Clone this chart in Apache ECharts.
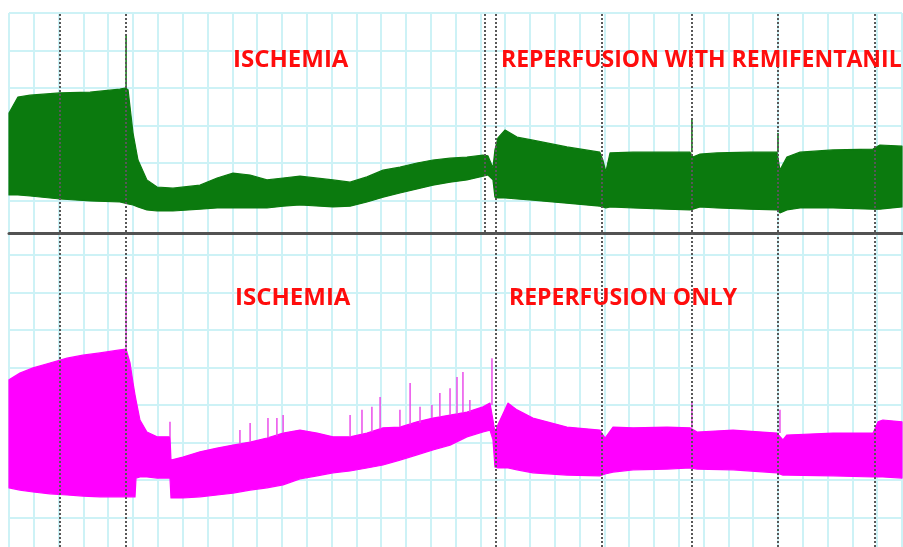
<!DOCTYPE html>
<html><head><meta charset="utf-8">
<script src="https://cdn.jsdelivr.net/npm/echarts@6/dist/echarts.min.js"></script>
<style>html,body{margin:0;padding:0;background:#fff}#c{width:903px;height:547px}</style>
</head><body><div id="c"></div><script>
// ---- time axis (grid divisions) ----
var xTicks = { min: 0, max: 36, step: 1 };

// ---- top panel: reperfusion with remifentanil (green) ----
var topT  = [0, 0.36, 0.85, 2.06, 3.27, 4.47, 4.68, 4.80, 5.00, 5.20, 5.56, 5.97, 6.61, 7.70, 8.39, 9.03, 9.72, 10.40, 11.05, 11.73, 13.06, 13.75, 14.43, 15.08, 15.76, 16.45, 17.09, 17.78, 18.46, 19.11, 19.31, 19.51, 19.59, 19.71, 20.00, 20.48, 21.12, 22.49, 23.82, 23.94, 24.06, 24.23, 25.16, 26.53, 27.45, 27.57, 27.86, 28.54, 29.87, 30.96, 31.08, 31.36, 31.89, 33.22, 34.83, 35.11, 36];
var topHi = [23.3, 27.6, 28.1, 28.7, 28.9, 29.7, 30.0, 29.5, 18.0, 10.8, 5.5, 3.6, 3.3, 4.1, 6.0, 7.3, 6.8, 5.5, 6.0, 6.5, 5.5, 4.9, 6.3, 8.1, 8.9, 10.0, 10.8, 11.3, 11.6, 12.1, 11.9, 8.7, 13.5, 16.7, 18.8, 16.9, 16.1, 14.3, 12.9, 10.8, 7.6, 12.7, 12.9, 12.9, 12.9, 11.6, 12.4, 12.7, 12.9, 12.9, 8.1, 11.6, 12.9, 13.5, 13.7, 14.8, 14.5];
var topLo = [1.5, 1.5, 1.2, 0.4, -0.1, -0.4, -0.7, -0.9, -1.2, -1.7, -2.5, -2.8, -2.8, -2.3, -2.0, -2.0, -2.0, -2.0, -1.5, -1.2, -1.7, -1.5, -0.4, 0.9, 2.0, 3.1, 4.1, 4.9, 5.5, 6.5, 6.8, 5.5, 0.9, 0.7, 0.7, 0.4, 0.1, -0.7, -1.5, -1.7, -2.0, -1.7, -2.0, -2.3, -2.5, -2.3, -1.7, -2.0, -2.3, -2.5, -3.3, -2.5, -2.0, -2.0, -2.3, -2.3, -1.7];
var topSpikeT    = [4.72, 27.53, 31.00];
var topSpikeBase = [29.8, 12.9, 12.9];
var topSpikePeak = [44.1, 22.0, 18.0];
var topEvents = [2.06, 4.72, 19.19, 19.63, 23.91, 27.54, 31.0, 34.91];
var topGridVals = [0, 10, 20, 30, 40, 50];
var topRange = [-8.4, 50];

// ---- bottom panel: reperfusion only (magenta) ----
var botT  = [0, 0.44, 0.97, 1.65, 2.34, 2.98, 3.67, 4.47, 4.72, 4.88, 5.00, 5.08, 5.12, 5.28, 5.56, 5.97, 6.41, 6.49, 6.53, 7.01, 7.70, 8.39, 9.03, 9.72, 10.40, 11.05, 11.73, 12.42, 13.06, 13.75, 14.43, 15.08, 15.76, 16.45, 17.09, 17.78, 18.46, 19.11, 19.39, 19.51, 19.59, 19.71, 20.12, 20.48, 21.12, 22.49, 23.82, 24.03, 24.35, 25.16, 26.53, 27.45, 27.74, 29.19, 30.96, 31.20, 31.36, 33.22, 34.83, 35.03, 35.23, 36];
var botHi = [36.7, 38.5, 39.9, 41.2, 42.5, 43.3, 43.9, 44.7, 44.9, 41.2, 35.9, 32.7, 31.3, 26.0, 22.8, 21.5, 21.5, 21.5, 15.3, 16.1, 17.5, 18.5, 19.3, 20.1, 21.2, 22.5, 23.3, 22.5, 21.5, 21.5, 22.5, 23.9, 24.1, 25.5, 26.5, 27.3, 28.1, 29.5, 30.5, 26.0, 22.8, 24.7, 30.5, 28.7, 26.5, 24.1, 23.3, 21.2, 24.1, 23.9, 24.1, 23.9, 22.8, 23.3, 22.5, 20.7, 22.0, 22.5, 22.5, 25.5, 26.0, 25.5];
var botLo = [7.9, 7.3, 6.8, 6.3, 6.0, 5.7, 5.5, 5.5, 5.5, 5.5, 5.5, 5.5, 10.5, 10.8, 10.8, 10.5, 10.5, 10.5, 5.2, 5.2, 5.5, 6.0, 6.5, 7.3, 7.9, 8.7, 10.3, 11.1, 11.9, 12.4, 13.2, 14.0, 15.3, 16.7, 18.0, 19.3, 21.5, 22.8, 23.3, 20.7, 13.5, 13.2, 13.2, 12.7, 11.9, 11.3, 11.1, 11.6, 12.1, 12.7, 12.9, 13.2, 12.9, 12.7, 11.9, 11.3, 11.3, 11.1, 10.8, 10.8, 10.8, 10.5];
var botSpikeT    = [4.72, 6.49, 9.31, 9.72, 10.44, 10.80, 11.05, 13.75, 14.23, 14.63, 14.96, 15.76, 16.17, 16.57, 17.05, 17.37, 17.78, 18.06, 18.30, 18.58, 19.47, 27.53, 31.08];
var botSpikeBase = [44.9, 21.5, 19.5, 20.1, 21.2, 21.8, 22.5, 21.5, 22.2, 22.8, 23.5, 24.1, 24.8, 25.2, 26.5, 26.9, 27.3, 27.5, 27.9, 28.1, 30.0, 23.9, 22.5];
var botSpikePeak = [64.1, 25.5, 23.3, 25.2, 26.5, 26.5, 27.3, 27.3, 28.7, 29.5, 32.1, 28.7, 35.9, 29.5, 30.0, 33.2, 34.5, 37.5, 38.8, 31.3, 42.5, 30.5, 28.7];
var botEvents = [2.06, 4.72, 19.63, 23.91, 27.54, 31.0, 34.91];
var botGridVals = [0, 10, 20, 30, 40, 50, 60, 70];
var botRange = [-7.87, 75.87];

// ---- annotations ----
var topLabels = ['ISCHEMIA', 'REPERFUSION WITH REMIFENTANIL'];
var botLabels = ['ISCHEMIA', 'REPERFUSION ONLY'];

var GRID_CYAN = '#cdf2f6';
var GREEN = '#0b7a0e';
var MAGENTA = '#ff00ff';

function bandSeries(ix, T, LO, HI, color, gridVals) {
  var rows = T.map(function (t, i) { return [t, LO[i], HI[i]]; });
  return {
    type: 'custom', xAxisIndex: ix, yAxisIndex: ix, z: 3, silent: true,
    data: rows, encode: { x: 0, y: [1, 2] },
    renderItem: function (params, api) {
      if (params.dataIndex !== 0) return null;
      var up = rows.map(function (r) { return api.coord([r[0], r[2]]); });
      var dn = rows.map(function (r) { return api.coord([r[0], r[1]]); }).reverse();
      return { type: 'polygon', shape: { points: up.concat(dn) },
        style: { fill: color, stroke: color, lineWidth: 1.2, lineJoin: 'round' } };
    },
    markLine: {
      silent: true, z: 1, symbol: ['none', 'none'], label: { show: false },
      lineStyle: { color: GRID_CYAN, width: 2, type: 'solid' },
      emphasis: { disabled: true },
      data: gridVals.map(function (v) { return { yAxis: v }; })
    }
  };
}

function spikeSeries(ix, T, B, P, color, events) {
  return {
    type: 'custom', xAxisIndex: ix, yAxisIndex: ix, z: 4, silent: true,
    data: T.map(function (t, i) { return [t, B[i], P[i]]; }), encode: { x: 0, y: [1, 2] },
    renderItem: function (params, api) {
      var a = api.coord([api.value(0), api.value(1)]);
      var b = api.coord([api.value(0), api.value(2)]);
      return { type: 'line', shape: { x1: a[0], y1: a[1], x2: b[0], y2: b[1] },
        style: { stroke: color, lineWidth: 1.5 } };
    },
    markLine: {
      silent: true, z: 6, symbol: ['none', 'none'], label: { show: false },
      lineStyle: { color: '#585858', width: 2, type: [2, 2] },
      emphasis: { disabled: true },
      data: events.map(function (v) { return { xAxis: v }; })
    }
  };
}

function xAx(ix) {
  return {
    gridIndex: ix, type: 'value', min: xTicks.min, max: xTicks.max, interval: xTicks.step,
    position: ix === 1 ? 'top' : 'bottom',
    axisLabel: { show: false }, axisTick: { show: false },
    axisLine: ix === 1 ? { show: true, onZero: false, lineStyle: { color: '#525252', width: 3 } } : { show: false },
    splitLine: { show: true, lineStyle: { color: GRID_CYAN, width: 2 } }
  };
}

function lbl(text, x, y, size) {
  return { type: 'text', x: x, y: y, z: 100, silent: true,
    style: { text: text, fill: '#ff0d0d', font: 'bold ' + size + 'px "Open Sans"', textAlign: 'left', textVerticalAlign: 'middle' } };
}

var chart = echarts.init(document.getElementById('c'), null, { renderer: 'canvas' });
chart.setOption({
  animation: false,
  backgroundColor: '#ffffff',
  grid: [
    { left: 9, right: 1, top: 13, height: 219 },
    { left: 9, right: 1, top: 233, height: 314 }
  ],
  xAxis: [xAx(0), xAx(1)],
  yAxis: [
    { gridIndex: 0, type: 'value', min: topRange[0], max: topRange[1], show: false },
    { gridIndex: 1, type: 'value', min: botRange[0], max: botRange[1], show: false }
  ],
  series: [
    bandSeries(0, topT, topLo, topHi, GREEN, topGridVals),
    spikeSeries(0, topSpikeT, topSpikeBase, topSpikePeak, GREEN, topEvents),
    bandSeries(1, botT, botLo, botHi, MAGENTA, botGridVals),
    spikeSeries(1, botSpikeT, botSpikeBase, botSpikePeak, '#ea4dea', botEvents)
  ],
  graphic: [
    lbl(topLabels[0], 233, 60, 24),
    lbl(topLabels[1], 501, 60, 23),
    lbl(botLabels[0], 235, 298, 24),
    lbl(botLabels[1], 509, 298, 23)
  ]
});
</script></body></html>
